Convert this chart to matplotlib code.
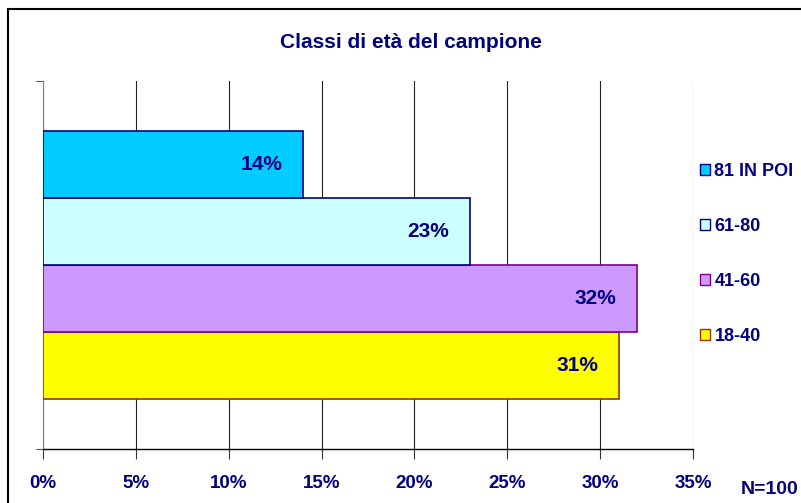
import matplotlib.pyplot as plt
from matplotlib.patches import Rectangle, Patch

plt.rcParams['font.family'] = ['Liberation Sans', 'DejaVu Sans']

# bottom -> top, as drawn
classes = ["18-40", "41-60", "61-80", "81 IN POI"]
values = [31, 32, 23, 14]
colors = ["#FFFF00", "#CC99FF", "#CCFFFF", "#00CCFF"]
edges = ["#993300", "#800080", "#000080", "#000080"]
xticks = [0, 5, 10, 15, 20, 25, 30, 35]

navy = "#000080"
W, H = 801, 503

fig = plt.figure(figsize=(W / 100, H / 100), dpi=100)
ax = fig.add_axes([43 / W, (H - 449) / H, (693 - 43) / W, (449 - 81) / H])

pos = list(range(len(values)))
bars = ax.barh(pos, values, height=1.0, color=colors, edgecolor=edges,
               linewidth=1.2, zorder=3)

for p, v in zip(pos, values):
    ax.annotate(f"{v}%", xy=(v, p), xytext=(-15, 0), textcoords="offset points",
                ha="right", va="center", color=navy, fontsize=15,
                fontweight="bold", zorder=4)

gap = 0.75
ax.set_ylim(-0.5 - gap, len(values) - 0.5 + gap)
ax.set_xlim(0, 35)
ax.set_xticks(xticks)
ax.set_xticklabels([f"{t}%" for t in xticks], color=navy, fontsize=13.5,
                   fontweight="bold")
ax.set_yticks(list(ax.get_ylim()))
ax.set_yticklabels([])
ax.tick_params(axis="x", direction="out", length=7, width=0.8, pad=12,
               color="#333333")
ax.tick_params(axis="y", direction="out", length=5, width=0.8, color="#555555")

ax.xaxis.grid(True, color="#222222", linewidth=0.8, zorder=0)
ax.set_axisbelow(True)
for s in ["top", "right"]:
    ax.spines[s].set_visible(False)
ax.spines["left"].set_color("#808080")
ax.spines["bottom"].set_color("black")
ax.spines["bottom"].set_linewidth(1.0)

fig.text(411 / W, 1 - 42 / H, "Classi di età del campione", ha="center",
         va="center", color=navy, fontsize=15, fontweight="bold")
fig.text(770 / W, 1 - 490 / H, "N=100", ha="center", va="center",
         color=navy, fontsize=14, fontweight="bold")

handles = [Patch(facecolor=c, edgecolor=e, label=l)
           for c, e, l in zip(colors[::-1], edges[::-1], classes[::-1])]
fig.legend(handles=handles, loc="upper left",
           bbox_to_anchor=(700 / W, 1 - 163 / H), frameon=False,
           prop={"size": 13, "weight": "bold"}, labelcolor=navy,
           handlelength=0.55, handleheight=0.6, handletextpad=0.25,
           labelspacing=2.1, borderaxespad=0, borderpad=0)

fig.patches.append(Rectangle((8 / W, -0.1), 1.2, 1 - 9 / H + 0.1,
                             transform=fig.transFigure, fill=False,
                             edgecolor="black", linewidth=1.5))

fig.savefig("out.png", dpi=100)
